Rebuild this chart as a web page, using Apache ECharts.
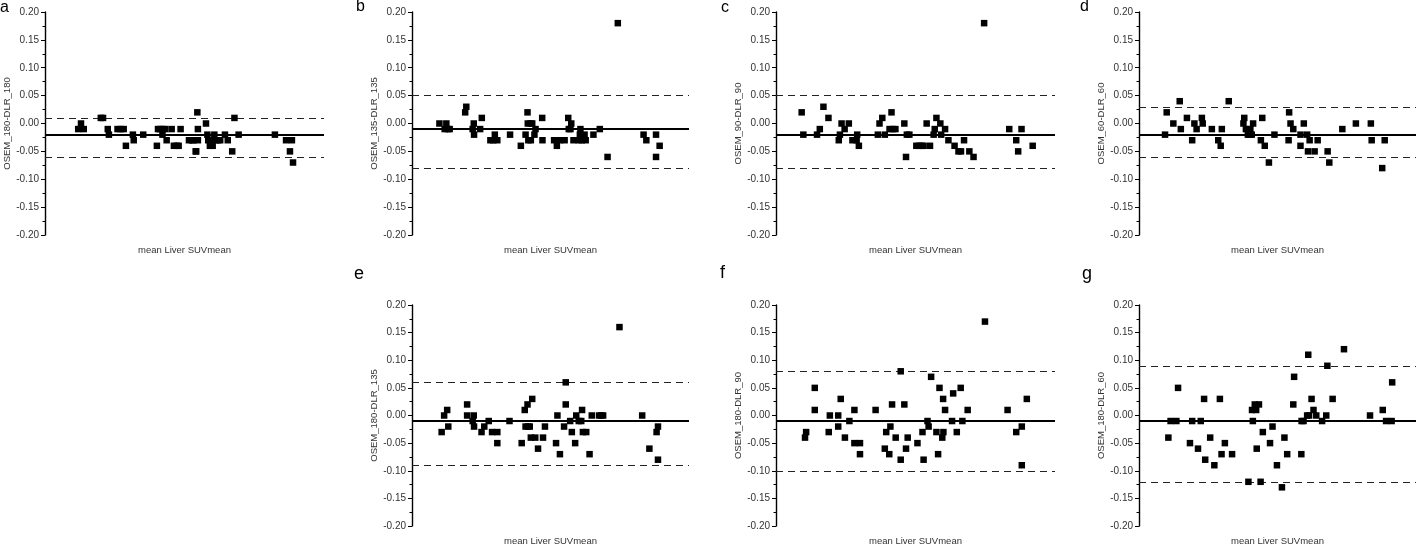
<!DOCTYPE html>
<html><head><meta charset="utf-8">
<script src="https://cdn.jsdelivr.net/npm/echarts@6/dist/echarts.min.js"></script>
<style>html,body{margin:0;padding:0;background:#fff}#c{width:1416px;height:547px}</style>
</head><body><div id="c"></div>
<script>
// Panel labels and axis titles
const panelLetters = ['a','b','c','d','e','f','g'];
const yNames = ['OSEM_180-DLR_180','OSEM_135-DLR_135','OSEM_90-DLR_90','OSEM_60-DLR_60','OSEM_180-DLR_135','OSEM_180-DLR_90','OSEM_180-DLR_60'];
const xName = 'mean Liver SUVmean';

// (x: relative position along the unlabeled x axis, y: difference)
const xA = [11.9,12.9,13.9,20.0,20.8,22.5,22.9,26.0,27.1,28.2,29.0,31.5,31.8,35.2,40.1,40.5,41.3,42.1,42.3,43.1,43.6,45.4,46.2,47.2,47.9,48.6,51.6,52.7,53.2,54.0,54.2,54.6,54.8,54.8,57.7,58.2,58.5,59.1,59.5,60.1,60.7,61.1,62.0,62.8,64.5,65.5,67.1,67.9,69.4,82.4,86.4,87.8,88.5,88.9];
const yA = [-0.01,0.00,-0.01,0.01,0.01,-0.01,-0.02,-0.01,-0.01,-0.01,-0.04,-0.02,-0.03,-0.02,-0.04,-0.01,-0.01,-0.02,-0.01,-0.01,-0.03,-0.01,-0.04,-0.04,-0.04,-0.01,-0.03,-0.03,-0.03,-0.05,-0.05,0.02,-0.01,-0.03,0.00,-0.02,-0.03,-0.04,-0.03,-0.04,-0.02,-0.03,-0.03,-0.03,-0.02,-0.03,-0.05,0.01,-0.02,-0.02,-0.03,-0.05,-0.03,-0.07];

const xB = [9.9,11.8,12.4,13.0,13.6,19.2,19.6,21.9,22.3,22.4,24.6,25.2,28.3,29.3,29.9,30.8,35.4,39.3,41.0,41.7,41.8,42.0,42.8,42.9,43.4,44.2,44.6,47.0,47.1,51.3,52.3,53.4,55.1,56.4,56.6,57.2,57.5,58.3,60.2,60.6,60.8,61.3,62.3,62.7,65.5,67.8,70.6,74.3,83.6,84.6,88.1,88.1,89.4];
const yB = [0.00,-0.01,0.00,-0.01,-0.01,0.02,0.03,-0.01,0.00,-0.02,-0.01,0.01,-0.03,-0.03,-0.02,-0.03,-0.02,-0.04,-0.02,0.02,0.00,-0.03,0.00,-0.03,0.00,-0.02,-0.01,0.01,-0.03,-0.03,-0.04,-0.03,-0.03,0.01,-0.01,-0.01,0.00,-0.03,-0.03,-0.02,-0.01,-0.03,-0.02,-0.03,-0.02,-0.01,-0.06,0.18,-0.02,-0.03,-0.02,-0.06,-0.04];

const xC = [9.2,9.8,14.7,15.7,17.0,18.8,22.5,22.9,23.5,24.6,26.1,27.4,28.9,29.1,29.7,36.5,37.1,38.1,39.0,40.7,41.4,41.9,42.8,46.0,46.6,46.9,47.8,50.3,51.3,52.2,52.9,54.0,55.2,56.5,56.9,57.5,58.9,59.2,60.6,61.8,64.0,65.4,66.3,67.4,69.3,70.8,74.6,83.6,86.1,86.8,88.0,92.0];
const yC = [0.02,-0.02,-0.02,-0.01,0.03,0.01,-0.03,-0.02,0.00,-0.01,0.00,-0.03,-0.03,-0.02,-0.04,-0.02,0.00,0.01,-0.02,-0.01,0.02,-0.01,-0.01,0.00,-0.06,-0.02,-0.02,-0.04,-0.04,-0.04,-0.04,0.00,-0.04,-0.02,-0.01,0.01,0.00,-0.02,-0.01,-0.03,-0.04,-0.05,-0.05,-0.03,-0.05,-0.06,0.18,-0.01,-0.03,-0.05,-0.01,-0.04];

const xD = [9.4,10.0,12.4,14.7,15.1,17.3,19.2,20.0,20.8,22.7,23.0,26.3,28.6,29.5,29.9,32.4,37.7,38.0,38.6,39.3,39.9,40.2,40.7,41.2,44.0,44.5,45.4,46.9,48.9,54.0,54.2,54.7,55.7,58.3,58.3,59.5,60.7,61.0,61.6,63.4,64.5,68.1,68.7,73.4,78.3,83.7,84.0,87.8,88.7];
const yD = [-0.02,0.02,0.00,0.04,-0.01,0.01,-0.03,0.00,-0.01,0.01,0.00,-0.01,-0.03,-0.04,-0.01,0.04,0.00,0.01,-0.01,-0.02,-0.02,-0.01,-0.02,0.00,-0.03,0.01,-0.04,-0.07,-0.02,-0.03,0.02,0.00,-0.01,-0.02,-0.04,0.00,-0.02,-0.05,-0.03,-0.05,-0.03,-0.05,-0.07,-0.01,0.00,0.00,-0.03,-0.08,-0.03];

const xE = [10.7,11.6,12.7,13.1,19.9,19.9,21.9,22.3,22.4,25.1,26.1,27.7,28.9,30.8,30.8,35.2,39.6,40.7,41.0,41.7,41.9,42.5,42.9,43.4,44.5,45.5,47.3,48.0,52.0,52.5,53.4,54.9,55.5,55.5,57.1,57.7,58.9,59.3,60.2,61.1,61.4,61.7,62.9,64.1,64.9,67.5,68.3,69.0,74.9,83.1,85.7,88.3,88.8,88.8];
const yE = [-0.03,0.00,0.01,-0.02,0.02,0.00,-0.01,0.00,-0.02,-0.03,-0.02,-0.01,-0.03,-0.03,-0.05,-0.01,-0.05,0.01,-0.02,0.02,-0.02,-0.02,-0.04,0.03,-0.04,-0.06,-0.04,-0.02,-0.05,0.00,-0.07,-0.02,0.06,0.02,-0.01,-0.03,-0.05,0.00,-0.01,-0.01,0.01,-0.03,-0.03,-0.07,0.00,0.00,0.00,0.00,0.16,0.00,-0.06,-0.03,-0.02,-0.08];

const xF = [10.4,10.8,13.9,13.9,18.9,19.3,22.3,22.3,23.2,24.7,26.3,28.1,28.1,30.1,30.1,35.7,39.0,39.5,40.6,41.0,41.6,42.9,44.7,44.7,46.0,46.6,47.2,50.7,52.5,52.9,54.3,54.7,55.6,57.5,58.1,58.6,59.6,59.9,60.0,60.6,63.1,63.5,64.8,66.2,66.8,68.7,74.9,83.0,86.1,88.1,88.1,89.9];
const yF = [-0.04,-0.03,0.05,0.01,-0.03,0.00,0.00,-0.02,0.03,-0.04,-0.01,0.01,-0.05,-0.05,-0.07,0.01,-0.06,-0.03,-0.07,-0.02,0.02,-0.04,0.08,-0.08,0.02,-0.06,-0.04,-0.05,-0.03,-0.08,-0.01,-0.02,0.07,-0.03,-0.07,0.05,-0.04,0.03,-0.03,0.01,-0.01,0.04,-0.03,0.05,-0.01,0.01,0.17,0.01,-0.03,-0.02,-0.09,0.03];

const xG = [10.6,11.4,13.5,14.1,18.4,19.2,21.3,22.3,23.5,23.9,25.7,27.2,29.2,29.8,31.0,33.6,39.5,40.8,41.1,41.8,42.3,42.5,43.3,43.9,44.7,47.3,48.2,49.8,51.6,52.5,53.5,55.7,56.0,58.6,58.7,59.4,60.7,61.1,61.4,62.3,63.0,64.0,66.1,67.6,68.0,69.9,74.0,83.4,88.0,89.2,91.2,91.4];
const yG = [-0.04,-0.01,-0.01,0.05,-0.05,-0.01,-0.06,-0.01,0.03,-0.08,-0.04,-0.09,0.03,-0.07,-0.05,-0.07,-0.12,0.01,-0.01,0.02,0.01,-0.06,0.02,-0.12,-0.03,-0.05,-0.02,-0.09,-0.13,-0.04,-0.07,0.02,0.07,-0.07,-0.01,-0.01,0.00,0.11,0.00,0.03,0.01,0.00,-0.01,0.00,0.09,0.03,0.12,0.00,0.01,-0.01,-0.01,0.06];

// Bias (mean) and limits of agreement
const biasVals  = [-0.021, -0.0138, -0.0156, -0.0156, -0.015, -0.0114, -0.0144];
const upperVals = [0.0125, 0.051, 0.0515, 0.0335, 0.058, 0.082, 0.0922];
const lowerVals = [-0.0555, -0.078, -0.083, -0.0646, -0.088, -0.104, -0.1204];

const yMin = -0.2, yMax = 0.2, yStep = 0.05;

// ---- layout (px) ----
const grids = [
  {left: 45,   top: 12,  width: 279, height: 223},
  {left: 412,  top: 12,  width: 277, height: 223},
  {left: 776,  top: 12,  width: 279, height: 223},
  {left: 1139, top: 12,  width: 277, height: 223},
  {left: 412,  top: 305, width: 277, height: 223},
  {left: 776,  top: 305, width: 279, height: 223},
  {left: 1139, top: 305, width: 277, height: 223}
];
const nameGaps = [25, 31, 31, 32, 31, 31, 32];
const letterPos = [[0,0],[356,-1],[721,0],[1080,-1],[354,265],[720,264],[1082,265]];
const letterSize = [16,16,16,16,18,18,18];

const xs = [xA,xB,xC,xD,xE,xF,xG];
const ys = [yA,yB,yC,yD,yE,yF,yG];
const FONT = 'Liberation Sans, Arial, sans-serif';
const TXT = '#333';

const chart = echarts.init(document.getElementById('c'), null, {renderer: 'canvas'});
const option = {
  animation: false,
  backgroundColor: '#fff',
  title: panelLetters.map((l, i) => ({
    text: l, left: letterPos[i][0], top: letterPos[i][1], padding: 0,
    textStyle: {fontFamily: FONT, fontSize: letterSize[i], fontWeight: 'normal', color: '#000'}
  })),
  grid: grids.map(g => Object.assign({containLabel: false}, g)),
  xAxis: grids.map((g, i) => ({
    gridIndex: i, type: 'value', min: 0, max: 100,
    name: xName, nameLocation: 'middle', nameGap: 10,
    nameTextStyle: {fontFamily: FONT, fontSize: 9.5, color: TXT},
    axisLine: {show: false}, axisTick: {show: false}, axisLabel: {show: false}, splitLine: {show: false}
  })),
  yAxis: grids.map((g, i) => ({
    gridIndex: i, type: 'value', min: yMin, max: yMax, interval: yStep,
    name: yNames[i], nameLocation: 'middle', nameGap: nameGaps[i], nameRotate: 90,
    nameTextStyle: {fontFamily: FONT, fontSize: 9.5, color: TXT},
    axisLine: {show: true, onZero: false, lineStyle: {color: '#000', width: 1.4}},
    axisTick: {show: true, length: 4, lineStyle: {color: '#000', width: 1}},
    minorTick: {show: true, splitNumber: 2, length: 2.5, lineStyle: {color: '#000', width: 1}},
    axisLabel: {fontFamily: FONT, fontSize: 10, color: TXT, margin: 6, formatter: v => v.toFixed(2)},
    splitLine: {show: false}
  })),
  series: grids.map((g, i) => ({
    type: 'scatter', xAxisIndex: i, yAxisIndex: i,
    symbol: 'rect', symbolSize: 6.5,
    itemStyle: {color: '#000', opacity: 1},
    data: xs[i].map((x, k) => [x, ys[i][k]]),
    z: 3,
    markLine: {
      silent: true, symbol: ['none', 'none'], label: {show: false}, animation: false, z: 2,
      data: [
        {yAxis: biasVals[i], lineStyle: {type: 'solid', width: 1.8, color: '#000'}},
        {yAxis: upperVals[i], lineStyle: {type: [7, 5], width: 1.2, color: '#222'}},
        {yAxis: lowerVals[i], lineStyle: {type: [7, 5], width: 1.2, color: '#222'}}
      ]
    }
  }))
};
chart.setOption(option);
</script>
</body></html>
